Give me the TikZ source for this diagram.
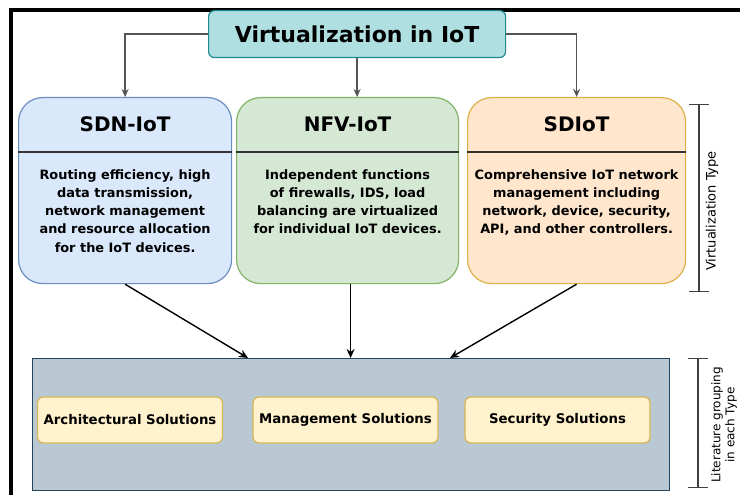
\documentclass[tikz,border=0pt]{standalone}
\usepackage{fontspec}
\setmainfont{DejaVu Sans}
\usetikzlibrary{arrows.meta,calc}
\definecolor{titlefill}{HTML}{B0DFE2}
\definecolor{titledraw}{HTML}{1E8A90}
\definecolor{sdnfill}{HTML}{DAE8FC}
\definecolor{sdndraw}{HTML}{6C8EBF}
\definecolor{nfvfill}{HTML}{D5E8D4}
\definecolor{nfvdraw}{HTML}{82B366}
\definecolor{sdifill}{HTML}{FFE6CC}
\definecolor{sdidraw}{HTML}{DDB04A}
\definecolor{grayfill}{HTML}{BAC8D3}
\definecolor{graydraw}{HTML}{23445D}
\definecolor{solfill}{HTML}{FFF2CC}
\definecolor{soldraw}{HTML}{D6B656}
\definecolor{topline}{HTML}{555555}
\tikzset{
  titlebox/.style={draw=titledraw, fill=titlefill, line width=1.2pt, rounded corners=6pt,
    inner sep=0pt, font=\bfseries\fontsize{22}{25}\selectfont},
  catbox/.style={line width=1.2pt, rounded corners=24pt, inner sep=0pt},
  hdr/.style={inner sep=0pt, font=\bfseries\fontsize{20}{23}\selectfont},
  bodytext/.style={inner sep=0pt, align=center, font=\bfseries\fontsize{12.9}{18.3}\selectfont},
  divider/.style={line width=1pt, draw=black!80},
  solbox/.style={draw=soldraw, fill=solfill, line width=1.2pt, rounded corners=6pt,
    minimum width=185pt, minimum height=46pt, inner sep=0pt,
    font=\bfseries\fontsize{13.3}{15}\selectfont},
  toparrow/.style={draw=topline, line width=1.4pt, -{Stealth[length=8pt,width=7pt]}},
  botarrow/.style={draw=black, line width=1.4pt, -{Stealth[length=9pt,width=8pt]}},
  bracket/.style={draw=black!75, line width=1.2pt, {Bar[width=20pt]}-{Bar[width=20pt]}},
  sidelabel/.style={inner sep=0pt, rotate=90, align=center}
}
\begin{document}
\begin{tikzpicture}[x=1pt,y=-1pt]
\useasboundingbox (0,0) rectangle (740,495);
\fill[white] (0,0) rectangle (740,495);
% frame
\fill[black] (9,8) rectangle (740,12);
\fill[black] (9,8) rectangle (13,495);

% title
\node[titlebox, minimum width=297pt, minimum height=47pt, anchor=north west] (title) at (208,10) {Virtualization in IoT};

% category boxes
\node[catbox, draw=sdndraw, fill=sdnfill, minimum width=213pt, minimum height=186pt, anchor=north west] (sdn) at (18,97) {};
\node[catbox, draw=nfvdraw, fill=nfvfill, minimum width=222pt, minimum height=186pt, anchor=north west] (nfv) at (236,97) {};
\node[catbox, draw=sdidraw, fill=sdifill, minimum width=218pt, minimum height=186pt, anchor=north west] (sdi) at (467,97) {};

\draw[divider] ($(sdn.north west)+(0,55)$) -- ($(sdn.north east)+(0,55)$);
\draw[divider] ($(nfv.north west)+(0,55)$) -- ($(nfv.north east)+(0,55)$);
\draw[divider] ($(sdi.north west)+(0,55)$) -- ($(sdi.north east)+(0,55)$);

\node[hdr] (sdnh) at ($(sdn.north)+(0,27)$) {SDN-IoT};
\node[hdr] (nfvh) at ($(nfv.north)+(0,27)$) {NFV-IoT};
\node[hdr] (sdih) at ($(sdi.north)+(0,27)$) {SDIoT};

\node[bodytext, anchor=north] (sdnb) at ($(sdn.north)+(0,72)$) {Routing efficiency, high\\data transmission,\\network management\\and resource allocation\\for the IoT devices.};
\node[bodytext, anchor=north] (nfvb) at ($(nfv.north)+(0,72)$) {Independent functions\\of firewalls, IDS, load\\balancing are virtualized\\for individual IoT devices.};
\node[bodytext, anchor=north] (sdib) at ($(sdi.north)+(0,72)$) {Comprehensive IoT network\\management including\\network, device, security,\\API, and other controllers.};

% top connectors
\draw[toparrow] (title.west) -| (sdn.north);
\draw[toparrow] (title.south) -- (title.south |- nfv.north);
\draw[toparrow] (title.east) -| (sdi.north);

% bottom group
\node[draw=graydraw, fill=grayfill, line width=1.4pt, minimum width=637pt, minimum height=132pt, inner sep=0pt, anchor=north west] (grp) at (32,358) {};
\node[solbox] (arch) at (130,420) {Architectural Solutions};
\node[solbox] (mgmt) at (345.5,420) {Management Solutions};
\node[solbox] (sec) at (557.5,420) {Security Solutions};

\coordinate (inA) at ($(grp.north west)+(216,0)$);
\coordinate (inC) at ($(grp.north west)+(418,0)$);
\draw[botarrow] (sdn.south) -- (inA);
\draw[botarrow] ($(nfv.south)+(3,0)$) -- ($(nfv.south |- grp.north)+(3,0)$);
\draw[botarrow] (sdi.south) -- (inC);

% side brackets
\coordinate (b1t) at (699,104);
\coordinate (b1b) at (699,292);
\draw[bracket] (b1t) -- (b1b);
\node[sidelabel, font=\fontsize{13}{15}\selectfont] (lab1) at (712,211) {Virtualization Type};
\coordinate (b2t) at (698,358);
\coordinate (b2b) at (698,488);
\draw[bracket] (b2t) -- (b2b);
\node[sidelabel, font=\fontsize{12}{14}\selectfont] (lab2) at (724,425) {Literature grouping\\in each Type};
\end{tikzpicture}
\end{document}
